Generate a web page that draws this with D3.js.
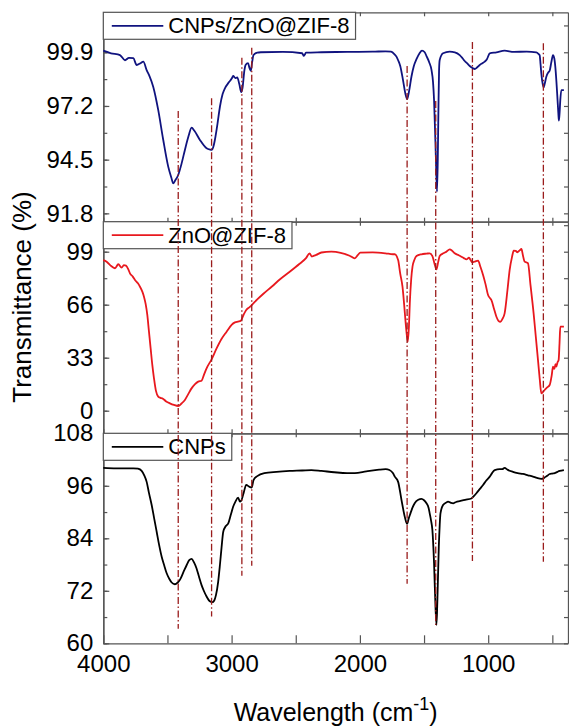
<!DOCTYPE html>
<html><head><meta charset="utf-8">
<script src="https://cdn.jsdelivr.net/npm/d3@7"></script>
<style>
html,body{margin:0;padding:0;background:#fff;}
svg{display:block;font-family:"Liberation Sans",Arial,sans-serif;}
</style></head>
<body>
<svg id="chart" width="569" height="728"></svg>
<script>
// ---------------- DATA ----------------
const seriesNames = ["CNPs/ZnO@ZIF-8", "ZnO@ZIF-8", "CNPs"];

const wnA = [4000,3940,3870,3831,3800,3766,3740,3710,3688,3662,3640,3611,3572,3533,3494,3470,3455,3440,3416,3390,3364,3335,3312,3290,3247,3195,3165,3156,3140,3130,3110,3091,3070,3052,3020,2998,2988,2970,2956,2940,2925,2915,2900,2891,2872,2860,2850,2840,2829,2800,2773,2600,2450,2437,2420,2300,2100,1900,1800,1757,1730,1715,1702,1685,1664,1645,1632,1618,1598,1580,1559,1535,1516,1495,1481,1460,1442,1430,1422,1412,1405,1399,1393,1388,1383,1378,1352,1300,1260,1222,1200,1183,1165,1144,1120,1105,1085,1066,1045,1027,1010,988,936,872,800,700,625,605,599,592,586,575,568,560,547,530,521,508,495,485,477,468,461,453,449,444,438,430,410];
const valA = [99.98,99.85,99.76,99.5,99.62,99.6,99.26,99.35,99.43,99.0,98.7,98.17,97.0,95.5,94.15,93.6,93.31,93.45,93.73,94.3,94.99,95.7,96.11,95.95,95.49,95.07,95.0,94.99,95.2,95.5,96.3,97.16,97.8,98.09,98.4,98.59,98.71,98.6,98.64,98.3,97.9,98.1,99.0,99.26,99.35,99.1,98.97,99.4,99.76,99.88,99.9,99.92,99.85,99.72,99.88,99.9,99.92,99.93,99.95,99.93,99.8,99.68,99.5,99.2,98.5,97.8,97.54,97.9,98.68,99.2,99.55,99.85,99.98,99.9,99.71,99.4,99.01,98.4,97.5,95.5,94.0,92.89,94.5,97.0,99.0,99.51,99.85,99.93,99.9,99.76,99.6,99.46,99.35,99.21,99.1,99.06,99.15,99.26,99.35,99.43,99.55,99.85,99.9,99.98,99.92,99.93,99.9,99.8,99.76,99.3,98.84,98.3,98.14,98.3,98.67,98.9,98.97,99.4,99.76,99.6,99.18,98.4,97.67,96.8,96.46,96.8,97.5,98.0,98.0];

const wnB = [4000,3974,3945,3909,3883,3857,3840,3823,3805,3792,3770,3753,3730,3714,3695,3683,3670,3657,3645,3631,3618,3605,3590,3572,3555,3540,3510,3481,3450,3416,3390,3364,3340,3312,3285,3260,3234,3215,3195,3156,3117,3080,3039,3000,2974,2950,2928,2905,2886,2860,2843,2800,2750,2688,2620,2547,2470,2420,2392,2375,2364,2340,2300,2223,2150,2080,2040,2015,1997,1900,1800,1743,1728,1702,1686,1668,1655,1643,1627,1618,1611,1600,1590,1575,1559,1520,1480,1456,1435,1420,1403,1390,1378,1350,1326,1300,1280,1261,1230,1209,1190,1170,1150,1135,1123,1100,1079,1060,1040,1020,1001,985,975,955,936,920,905,890,872,850,833,815,801,785,773,755,741,730,716,690,670,646,630,612,598,586,575,560,540,521,505,495,485,475,469,460,451,444,438,410];
const valB = [93.8,92.8,90.5,88.7,91.2,89.1,90.6,90.3,88.0,85.5,83.5,81.4,79.3,77.2,74.0,71.0,66.5,59.6,50.0,38.8,28.5,20.2,12.5,8.8,8.0,7.7,5.8,4.6,3.6,2.9,4.5,6.7,10.0,13.9,16.5,18.1,18.7,22.5,26.4,32.0,38.8,44.5,49.2,53.5,55.0,55.5,56.0,60.0,62.7,64.5,65.8,69.3,73.0,77.2,82.0,86.5,91.5,95.0,98.0,96.0,96.3,97.0,98.5,99.0,98.3,96.5,94.9,97.0,98.4,98.6,98.0,97.4,97.4,93.8,85.5,77.2,66.0,54.4,43.0,52.0,66.9,82.0,89.7,94.0,96.3,97.4,97.8,98.0,96.3,92.0,88.0,92.5,96.3,98.0,99.0,100.5,99.5,98.0,96.8,95.9,95.0,94.2,95.3,93.5,92.4,93.0,93.4,89.5,84.5,78.5,72.0,70.0,68.9,63.5,58.5,56.0,55.4,57.0,60.6,75.0,87.6,95.5,99.6,99.5,98.6,99.8,100.7,97.0,92.8,91.8,78.0,60.6,47.0,31.6,19.5,10.8,11.5,12.9,14.5,16.0,22.0,27.4,26.0,29.0,27.4,30.0,31.6,42.0,52.3,52.3];

const wnC = [4000,3900,3766,3730,3701,3680,3662,3645,3623,3605,3584,3565,3545,3525,3506,3485,3467,3442,3420,3403,3375,3350,3330,3312,3293,3273,3255,3234,3215,3195,3170,3151,3135,3122,3105,3091,3078,3065,3045,3026,3005,2988,2970,2949,2936,2925,2905,2886,2863,2843,2829,2800,2745,2650,2547,2450,2378,2300,2200,2100,2040,1950,1850,1799,1770,1743,1728,1702,1676,1650,1632,1620,1606,1590,1573,1545,1520,1500,1481,1465,1456,1445,1435,1422,1411,1403,1396,1385,1378,1372,1352,1330,1313,1290,1274,1250,1222,1180,1131,1110,1092,1065,1040,1015,988,970,949,910,890,872,850,807,770,729,690,651,620,586,570,560,540,521,500,482,460,443,410];
const valC = [100.1,100.0,100.0,99.9,99.4,98.3,96.9,94.5,91.6,88.8,85.5,82.5,79.8,77.8,76.0,74.7,73.9,73.5,73.9,74.5,76.3,77.9,79.0,79.3,78.5,77.1,75.3,73.3,71.9,70.7,69.6,69.4,69.8,71.0,74.0,77.9,82.0,85.5,86.8,87.4,89.5,91.2,92.4,93.3,92.4,92.6,94.5,96.2,95.8,95.6,97.3,98.2,98.9,99.2,99.4,99.5,99.6,99.4,99.1,98.9,98.9,99.3,99.7,99.8,99.6,98.9,98.1,96.9,92.8,88.9,87.3,88.5,89.7,91.0,92.0,92.8,93.0,92.7,92.0,91.0,89.7,88.0,85.9,78.3,68.4,64.2,69.9,82.1,87.0,89.7,91.6,92.1,92.4,92.1,92.0,92.3,92.5,92.8,93.1,93.7,94.3,95.3,96.2,97.2,98.1,98.9,99.6,99.8,99.8,100.1,99.7,99.2,98.9,98.7,98.4,98.1,97.8,97.6,97.7,97.9,98.3,98.7,98.8,98.9,99.2,99.4,99.6];

const xTickLabels = [4000, 3000, 2000, 1000];
const yTicksA = [91.8, 94.5, 97.2, 99.9];
const yTicksB = [0, 33, 66, 99];
const yTicksC = [60, 72, 84, 96, 108];

// reference lines: wavenumber, top end (top-panel units), bottom end (bottom-panel units)
const markerWn = [3416, 3156, 2920, 2843, 1632, 1409, 1123, 570];
const markerTop = [96.95, 97.59, 99.63, 100.13, 99.21, 97.45, 100.42, 100.35];
const markerBottom = [63.3, 66.1, 75.45, 77.7, 73.6, 64.2, 78.8, 78.65];

// ---------------- LAYOUT ----------------
const svg = d3.select("#chart");
const xL = 103.3, xR = 568;
const x = d3.scaleLinear().domain([4000, 378]).range([xL, xR]);
const FRAME = "#555";

const panelDefs = [
  {wn: wnA, val: valA, color: "#10137f", ticks: yTicksA, minor: 1.35, dom: [91.38, 101.91], top: 12.3, bot: 221.7, fmt: d3.format(".1f")},
  {wn: wnB, val: valB, color: "#e8181e", ticks: yTicksB, minor: 16.5, dom: [-14.07, 117.68], top: 221.7, bot: 433.3, fmt: d3.format("d")},
  {wn: wnC, val: valC, color: "#000000", ticks: yTicksC, minor: 6, dom: [60, 108], top: 433.3, bot: 643.3, fmt: d3.format("d")}
];

const xMinor = d3.range(4000, 377, -500);

panelDefs.forEach((p, i) => {
  const y = d3.scaleLinear().domain(p.dom).range([p.bot, p.top]);
  p.y = y;
  const g = svg.append("g");
  const minorVals = d3.range(Math.ceil(p.dom[0] / p.minor) * p.minor, p.dom[1], p.minor);

  // left axis minor
  g.append("g").attr("transform", `translate(${xL},0)`)
    .call(d3.axisLeft(y).tickValues(minorVals).tickSize(-4).tickFormat("").tickSizeOuter(0));
  // left axis major with labels
  g.append("g").attr("class", "yl").attr("transform", `translate(${xL},0)`)
    .call(d3.axisLeft(y).tickValues(p.ticks).tickSize(-6).tickPadding(10).tickFormat(p.fmt).tickSizeOuter(0));
  // right axis
  g.append("g").attr("transform", `translate(${xR},0)`)
    .call(d3.axisRight(y).tickValues(minorVals).tickSize(-4).tickFormat("").tickSizeOuter(0));
  // top & bottom
  g.append("g").attr("transform", `translate(0,${p.top})`)
    .call(d3.axisTop(x).tickValues(xMinor).tickSize(-4).tickFormat("").tickSizeOuter(0));
  const bAx = g.append("g").attr("transform", `translate(0,${p.bot})`);
  if (i === 2) {
    bAx.call(d3.axisBottom(x).tickValues(xMinor).tickSize(-8).tickPadding(12)
      .tickFormat(d => xTickLabels.includes(d) ? d : "").tickSizeOuter(0));
  } else {
    bAx.call(d3.axisBottom(x).tickValues(xMinor).tickSize(-4).tickFormat("").tickSizeOuter(0));
  }
  g.selectAll(".domain").attr("stroke", FRAME).attr("stroke-width", 1.3);
  g.selectAll(".tick line").attr("stroke", FRAME).attr("stroke-width", 1.2);
  g.selectAll(".tick text").attr("font-size", 24).attr("fill", "#000")
    .attr("font-family", "Liberation Sans, Arial, sans-serif");

  // curve
  const pts = p.wn.map((w, k) => [w, p.val[k]]);
  g.append("path").datum(pts)
    .attr("fill", "none").attr("stroke", p.color).attr("stroke-width", 1.8)
    .attr("stroke-linejoin", "round")
    .attr("d", d3.line().x(d => x(d[0])).y(d => y(d[1])).curve(d3.curveMonotoneX));

  // legend
  const lg = svg.append("g");
  const rect = lg.append("rect").attr("x", xL).attr("y", p.top).attr("height", 27)
    .attr("fill", "#fff").attr("stroke", FRAME).attr("stroke-width", 1.2);
  lg.append("line").attr("x1", xL + 8.5).attr("x2", xL + 60).attr("y1", p.top + 13.5).attr("y2", p.top + 13.5)
    .attr("stroke", p.color).attr("stroke-width", 1.8);
  const t = lg.append("text").attr("x", xL + 65).attr("y", p.top + 21)
    .attr("font-size", 22).attr("fill", "#000").text(seriesNames[i]);
  const tw = t.node().getComputedTextLength();
  rect.attr("width", 65 + tw + 6);
});

// reference dash-dot lines
const yTopS = panelDefs[0].y, yBotS = panelDefs[2].y;
svg.append("g").selectAll("line").data(markerWn).join("line")
  .attr("x1", d => x(d)).attr("x2", d => x(d))
  .attr("y1", (d, i) => yTopS(markerTop[i]))
  .attr("y2", (d, i) => yBotS(markerBottom[i]))
  .attr("stroke", "#9a1c1c").attr("stroke-width", 1.3)
  .attr("stroke-dasharray", "7,2.5,1.5,2.5");

// axis titles
svg.append("text").attr("x", (xL + xR) / 2).attr("y", 721).attr("text-anchor", "middle")
  .attr("font-size", 25).attr("fill", "#000")
  .call(t => {
    t.append("tspan").text("Wavelength (cm");
    t.append("tspan").attr("font-size", 18).attr("dy", -11).text("-1");
    t.append("tspan").attr("dy", 11).text(")");
  });
svg.append("text").attr("transform", "translate(30.7,297) rotate(-90)")
  .attr("text-anchor", "middle").attr("font-size", 26).attr("fill", "#000")
  .text("Transmittance (%)");
</script>
</body></html>
